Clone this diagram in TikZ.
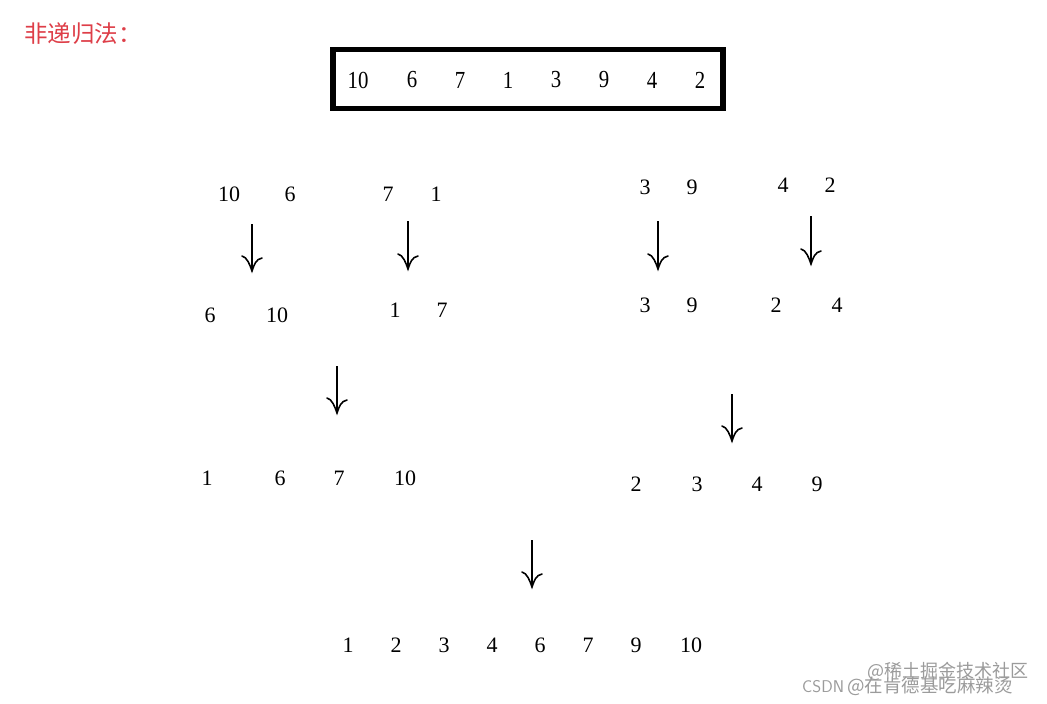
\documentclass[tikz,border=0pt]{standalone}
\usepackage{fontspec}
\usetikzlibrary{calc}
\setmainfont{Liberation Serif}
\newfontfamily\cjk{Noto Sans CJK SC}
\newfontfamily\boxnum[FakeStretch=0.85]{Liberation Serif}
\definecolor{titlered}{RGB}{222,62,72}
\definecolor{wmgray}{RGB}{155,155,155}
\begin{document}
\begin{tikzpicture}[x=1pt,y=-1pt,
  num/.style={inner sep=0pt,font=\fontsize{22}{22}\selectfont},
  bnum/.style={inner sep=0pt,font=\boxnum\fontsize{24.5}{24.5}\selectfont},
  shaft/.style={line width=1.6pt},
  headv/.style={line width=1.6pt,line cap=round},
  wm/.style={inner sep=0pt,text=wmgray,font=\cjk\fontsize{18.5}{18.5}\selectfont,anchor=base west,text height=13pt,text depth=1pt}]
\useasboundingbox[fill=white] (0,0) rectangle (1047,704);
% title
\node[inner sep=0pt,anchor=west,text=titlered,font=\cjk\fontsize{23.5}{23.5}\selectfont] (title) at (24,34) {非递归法：};
% box
\node[draw,line width=5.5pt,minimum width=390pt,minimum height=59pt,inner sep=0pt] (box) at (528,79) {};
\foreach \n/\x [count=\i] in {10/358,6/412,7/460,1/508,3/556,9/604,4/652,2/700}
  \node[bnum] (b\i) at (\x,80) {\n};
% row 1
\node[num] (r1a) at (229,194) {10};
\node[num] (r1b) at (290,194) {6};
\node[num] (r1c) at (388,194) {7};
\node[num] (r1d) at (436,194) {1};
\node[num] (r1e) at (645,187) {3};
\node[num] (r1f) at (692,187) {9};
\node[num] (r1g) at (783,185) {4};
\node[num] (r1h) at (830,185) {2};
% row 2
\node[num] (r2a) at (210,315) {6};
\node[num] (r2b) at (277,315) {10};
\node[num] (r2c) at (395,310) {1};
\node[num] (r2d) at (442,310) {7};
\node[num] (r2e) at (645,305) {3};
\node[num] (r2f) at (692,305) {9};
\node[num] (r2g) at (776,305) {2};
\node[num] (r2h) at (837,305) {4};
% row 3
\node[num] (r3a) at (207,478) {1};
\node[num] (r3b) at (280,478) {6};
\node[num] (r3c) at (339,478) {7};
\node[num] (r3d) at (405,478) {10};
\node[num] (r3e) at (636,484) {2};
\node[num] (r3f) at (697,484) {3};
\node[num] (r3g) at (757,484) {4};
\node[num] (r3h) at (817,484) {9};
% row 4
\foreach \n/\x [count=\i] in {1/348,2/396,3/444,4/492,6/540,7/588,9/636,10/691}
  \node[num] (r4\i) at (\x,645) {\n};
% arrows
\foreach \k/\x/\ya/\yb in {a/252/224/271, b/408/221/269, c/658/221/269, d/811/216/264, e/337/366/413, f/732/394/441, g/532/540/587}{
  \coordinate (\k s) at (\x,\ya);
  \coordinate (\k e) at (\x,\yb);
  \draw[shaft] (\k s) -- (\k e);
  \draw[headv] ($(\k e)+(-10,-15)$) .. controls ($(\k e)+(-5,-14)$) and ($(\k e)+(-2,-6)$) .. (\k e)
     .. controls ($(\k e)+(2,-6)$) and ($(\k e)+(4,-12)$) .. ($(\k e)+(10,-13)$);
}
% watermark
\node[wm,font=\cjk\fontsize{18}{18}\selectfont] (wm1) at (867,677) {@稀土掘金技术社区};
\node[wm,font=\fontsize{17}{17}\selectfont\sffamily] (wm2) at (802,692) {CSDN};
\node[wm] (wm3) at (847,692) {@在肯德基吃麻辣烫};
\end{tikzpicture}
\end{document}
